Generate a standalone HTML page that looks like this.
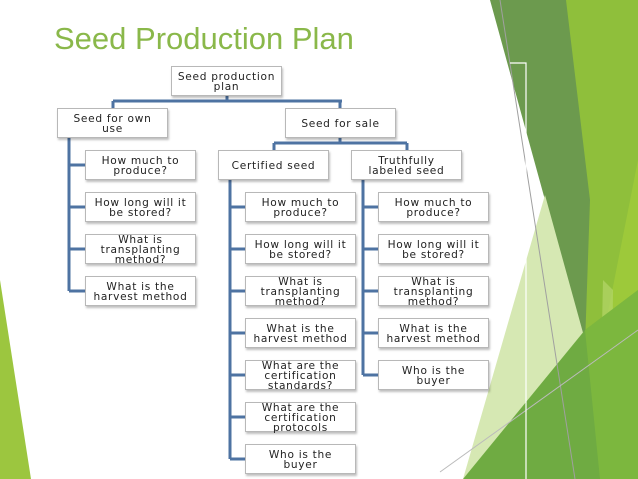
<!DOCTYPE html><html><head><style>
body{margin:0;width:638px;height:479px;overflow:hidden;background:#fff;position:relative;font-family:"DejaVu Sans","Liberation Sans",sans-serif}
svg{position:absolute;left:0;top:0}
.b{position:absolute;width:109px;height:28px;border:1px solid #b8b8b8;background:#fff;box-shadow:1px 2px 2px rgba(0,0,0,.25);display:flex;align-items:center;justify-content:center;text-align:center;font-size:10.6px;line-height:10px;color:#222;letter-spacing:.7px;white-space:nowrap;padding-top:1px;box-sizing:content-box}
.b{height:27px}
.t{position:absolute;left:54px;top:21px;font-family:"Liberation Sans",sans-serif;font-size:31px;color:#8ab84a}
</style></head><body>
<svg width="638" height="479">
<polygon points="0,280 31,479 0,479" fill="#9cc63f"/>
<polygon points="560,0 638,0 638,479 555,479" fill="#8fbf3b"/>
<polygon points="638,160 638,479 575,479" fill="#9dc93a"/>
<polygon points="603,280 613,290 612,400 600,420" fill="#b3d66a" opacity=".7"/>
<polygon points="490,0 566,0 590,200 585,345 575,340 560,280 545,200" fill="#6c9a4e"/>
<polygon points="545,195 585,340 463,479" fill="#d6e8b3"/>
<polygon points="463,479 585,330 638,290 638,479" fill="#6fab42"/>
<polygon points="585,330 638,290 638,479 600,479" fill="#86c03c" opacity=".6"/>
<line x1="500" y1="0" x2="575" y2="479" stroke="#a0a0a0" stroke-width="1"/>
<line x1="440" y1="472" x2="638" y2="330" stroke="#bbb" stroke-width="1"/>
<polyline points="510,63 526,63 526,479" fill="none" stroke="#fff" stroke-width="1.2"/>
<g stroke="#4e73a2" stroke-width="3" fill="none">
<path d="M227 96V101M113 101H342M113 101V108M340 101V108"/>
<path d="M340 138V143M274 143H407M274 143V150M407 143V150"/>
<path d="M69 138V291M69 165H85M69 207H85M69 249H85M69 291H85"/>
<path d="M230 180V459M230 207H245M230 249H245M230 291H245M230 333H245M230 375H245M230 417H245M230 459H245"/>
<path d="M363 180V375M363 207H378M363 249H378M363 291H378M363 333H378M363 375H378"/>
</g>
</svg>
<div class="t">Seed Production Plan</div>
<div class="b" style="left:171px;top:66px">Seed production<br>plan</div>
<div class="b" style="left:57px;top:108px">Seed for own<br>use</div>
<div class="b" style="left:285px;top:108px">Seed for sale</div>
<div class="b" style="left:218px;top:150px">Certified seed</div>
<div class="b" style="left:351px;top:150px">Truthfully<br>labeled seed</div>
<div class="b" style="left:85px;top:150px">How much to<br>produce?</div>
<div class="b" style="left:85px;top:192px">How long will it<br>be stored?</div>
<div class="b" style="left:85px;top:234px">What is<br>transplanting<br>method?</div>
<div class="b" style="left:85px;top:276px">What is the<br>harvest method</div>
<div class="b" style="left:245px;top:192px">How much to<br>produce?</div>
<div class="b" style="left:245px;top:234px">How long will it<br>be stored?</div>
<div class="b" style="left:245px;top:276px">What is<br>transplanting<br>method?</div>
<div class="b" style="left:245px;top:318px">What is the<br>harvest method</div>
<div class="b" style="left:245px;top:360px">What are the<br>certification<br>standards?</div>
<div class="b" style="left:245px;top:402px">What are the<br>certification<br>protocols</div>
<div class="b" style="left:245px;top:444px">Who is the<br>buyer</div>
<div class="b" style="left:378px;top:192px">How much to<br>produce?</div>
<div class="b" style="left:378px;top:234px">How long will it<br>be stored?</div>
<div class="b" style="left:378px;top:276px">What is<br>transplanting<br>method?</div>
<div class="b" style="left:378px;top:318px">What is the<br>harvest method</div>
<div class="b" style="left:378px;top:360px">Who is the<br>buyer</div>
</body></html>
